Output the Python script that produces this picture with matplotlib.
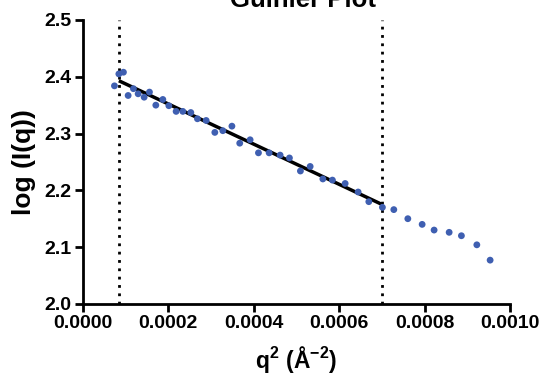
import matplotlib
matplotlib.use("Agg")
import matplotlib.pyplot as plt

plt.rcParams['font.family'] = ['Liberation Sans', 'DejaVu Sans']
plt.rcParams['font.weight'] = 'bold'
plt.rcParams['mathtext.fontset'] = 'custom'
plt.rcParams['mathtext.rm'] = 'Liberation Sans:bold'
plt.rcParams['mathtext.bf'] = 'Liberation Sans:bold'
plt.rcParams['mathtext.it'] = 'Liberation Sans:bold'

q2 = [0.0000740, 0.0000843, 0.0000950, 0.0001060, 0.0001184, 0.0001294, 0.0001435,
      0.0001559, 0.0001708, 0.0001872, 0.0002013, 0.0002183, 0.0002340, 0.0002527,
      0.0002682, 0.0002886, 0.0003089, 0.0003276, 0.0003489, 0.0003672, 0.0003915,
      0.0004110, 0.0004360, 0.0004617, 0.0004835, 0.0005092, 0.0005320, 0.0005617,
      0.0005841, 0.0006139, 0.0006443, 0.0006693, 0.0007011, 0.0007278, 0.0007606,
      0.0007941, 0.0008221, 0.0008573, 0.0008860, 0.0009221, 0.0009532]
logI = [2.384, 2.405, 2.408, 2.367, 2.379, 2.370, 2.364,
        2.373, 2.350, 2.360, 2.349, 2.339, 2.339, 2.337,
        2.326, 2.323, 2.302, 2.305, 2.313, 2.283, 2.289,
        2.266, 2.266, 2.262, 2.257, 2.234, 2.242, 2.220,
        2.218, 2.212, 2.197, 2.180, 2.170, 2.166, 2.150,
        2.140, 2.130, 2.126, 2.120, 2.104, 2.077]

fit_x = [0.0000843, 0.0006990]
fit_y = [2.393, 2.1755]
range_limits = [0.0000843, 0.0006990]

x_ticks = [0.0, 0.0002, 0.0004, 0.0006, 0.0008, 0.0010]
x_tick_labels = ["0.0000", "0.0002", "0.0004", "0.0006", "0.0008", "0.0010"]
y_ticks = [2.0, 2.1, 2.2, 2.3, 2.4, 2.5]
y_tick_labels = ["2.0", "2.1", "2.2", "2.3", "2.4", "2.5"]

fig = plt.figure(figsize=(5.45, 3.77), dpi=100)
ax = fig.add_axes([0.152, 0.194, 0.784, 0.753])

for xv in range_limits:
    ax.axvline(xv, color='black', linestyle=(0, (1, 2)), linewidth=2, zorder=1)

ax.scatter(q2, logI, s=24, color='#3f5fb1', edgecolors='none', zorder=3)
ax.plot(fit_x, fit_y, color='black', linewidth=2.5, zorder=2, solid_capstyle='butt')

ax.set_xlim(0, 0.0010)
ax.set_ylim(2.0, 2.5)
ax.set_xticks(x_ticks)
ax.set_xticklabels(x_tick_labels, fontweight='bold', fontsize=14)
ax.set_yticks(y_ticks)
ax.set_yticklabels(y_tick_labels, fontweight='bold', fontsize=14)

for s in ['top', 'right']:
    ax.spines[s].set_visible(False)
for s in ['left', 'bottom']:
    ax.spines[s].set_linewidth(2)
ax.tick_params(axis='both', direction='out', length=6, width=2, pad=2)

ax.set_xlabel(r'$\mathregular{q^2\ (Å^{-2})}$', fontsize=16.5, fontweight='bold', labelpad=9)
ax.set_ylabel('log (I(q))', fontsize=19, fontweight='bold', labelpad=6)
ax.set_title('Guinier Plot', fontsize=18.5, fontweight='bold', pad=9.5, x=0.515)

fig.savefig('out.png', dpi=100)
